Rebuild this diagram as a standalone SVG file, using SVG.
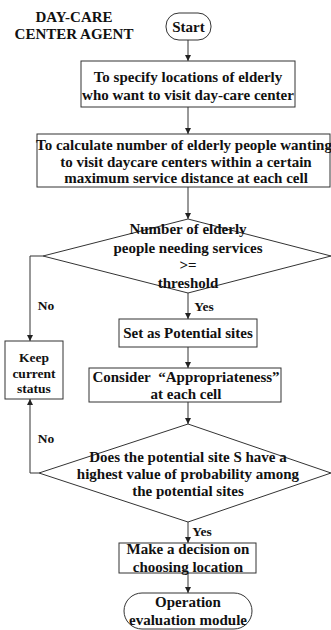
<svg xmlns="http://www.w3.org/2000/svg" width="331" height="630" viewBox="0 0 331 630">
<defs>
<marker id="ah" viewBox="0 0 8 8" refX="8" refY="4" markerWidth="6" markerHeight="6" orient="auto" markerUnits="userSpaceOnUse">
<path d="M0,0 L8,4 L0,8 z" fill="#222"/>
</marker>
<style>
text{font-family:"Liberation Serif","Times New Roman",serif;font-weight:bold;font-size:15px;fill:#111;text-anchor:middle}
.s{fill:#fff;stroke:#333;stroke-width:1}
.c{fill:none;stroke:#333;stroke-width:1}
.a{fill:none;stroke:#333;stroke-width:1;marker-end:url(#ah)}
.l{font-size:13.5px}
</style>
</defs>
<rect width="331" height="630" fill="#fff"/>
<g id="title">
<text x="74" y="22">DAY-CARE</text>
<text x="74" y="39">CENTER AGENT</text>
</g>
<g id="connectors">
<path class="a" d="M188,40 V61"/>
<path class="a" d="M188,107 V134"/>
<path class="a" d="M188,187 V219"/>
<path class="a" d="M188,293 V319"/>
<path class="a" d="M43,256 H30 V341"/>
<path class="a" d="M188,347 V368"/>
<path class="a" d="M188,402 V424"/>
<path class="a" d="M39,473 H30 V399"/>
<path class="a" d="M188,522 V543"/>
<path class="a" d="M188,573 V593"/>
<text class="l" x="46" y="310">No</text>
<text class="l" x="204" y="311">Yes</text>
<text class="l" x="46" y="443">No</text>
<text class="l" x="202" y="536">Yes</text>
</g>
<g id="start">
<rect class="s" x="166" y="13" width="45" height="27" rx="13"/>
<text x="188.5" y="32">Start</text>
</g>
<g id="specify">
<rect class="s" x="81" y="61" width="214" height="46"/>
<text x="188" y="82">To specify locations of elderly</text>
<text x="188" y="100">who want to visit day-care center</text>
</g>
<g id="calculate">
<rect class="s" x="37" y="134" width="293" height="53"/>
<text x="184" y="149.5" font-size="14.2">To calculate number of elderly people wanting</text>
<text x="186" y="166.5">to visit daycare centers within a certain</text>
<text x="186" y="183">maximum service distance at each cell</text>
</g>
<g id="threshold">
<polygon class="s" points="188,219 331,256 188,293 43,256"/>
<text x="188" y="234">Number of elderly</text>
<text x="188" y="253">people needing services</text>
<text x="188" y="270">&gt;=</text>
<text x="188" y="288">threshold</text>
</g>
<g id="potential">
<rect class="s" x="119" y="319" width="138" height="28"/>
<text x="188" y="338">Set as Potential sites</text>
</g>
<g id="keep">
<rect class="s" x="5" y="341" width="58" height="58"/>
<text class="l" x="34" y="362">Keep</text>
<text class="l" x="34" y="378">current</text>
<text class="l" x="34" y="393">status</text>
</g>
<g id="consider">
<rect class="s" x="89" y="368" width="192" height="34"/>
<text x="186" y="382">Consider&#160; “Appropriateness”</text>
<text x="186" y="399">at each cell</text>
</g>
<g id="highest">
<polygon class="s" points="188,424 331,473 188,522 39,473"/>
<text x="188" y="462">Does the potential site S have a</text>
<text x="188" y="479">highest value of probability among</text>
<text x="188" y="496">the potential sites</text>
</g>
<g id="decision">
<rect class="s" x="119" y="543" width="137" height="30"/>
<text x="188" y="554">Make a decision on</text>
<text x="188" y="572">choosing location</text>
</g>
<g id="operation">
<rect class="s" x="124" y="593" width="128" height="36" rx="18"/>
<text x="188" y="607">Operation</text>
<text x="188" y="625">evaluation module</text>
</g>
</svg>
